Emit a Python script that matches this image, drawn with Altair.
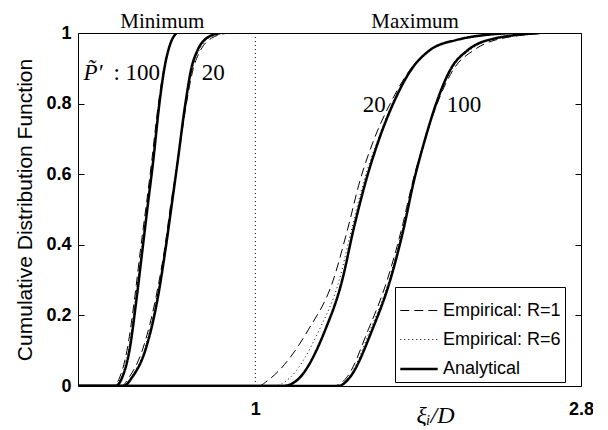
import altair as alt
import pandas as pd

# ---------------- data ----------------
X_LEFT = 0.02
X_RIGHT = 2.8
KINDS = ["Empirical: R=1", "Empirical: R=6", "Analytical"]

# Minimum, P'=100
CDF_MIN100 = [0, 0.026, 0.1, 0.244, 0.385, 0.527, 0.63, 0.8, 0.9, 0.97, 1.0]
X_MIN100_R1 = [0.2159, 0.2518, 0.2905, 0.3319, 0.3650, 0.4009, 0.4258, 0.4644, 0.4948, 0.5307, 0.5693]
X_MIN100_R6 = [0.2214, 0.2601, 0.2987, 0.3374, 0.3705, 0.4064, 0.4313, 0.4672, 0.4975, 0.5307, 0.5638]
X_MIN100_AN = [0.2269, 0.2656, 0.3042, 0.3429, 0.3760, 0.4092, 0.4340, 0.4699, 0.4975, 0.5307, 0.5638]

# Minimum, P'=20
CDF_MIN20 = [0, 0.026, 0.102, 0.244, 0.385, 0.527, 0.63, 0.8, 0.9, 0.95, 0.985, 1.0]
X_MIN20_R1 = [0.2601, 0.3042, 0.3760, 0.4478, 0.4975, 0.5362, 0.5693, 0.6190, 0.6576, 0.6963, 0.7570, 0.8509]
X_MIN20_R6 = [0.2656, 0.3153, 0.3871, 0.4533, 0.5030, 0.5417, 0.5693, 0.6163, 0.6521, 0.6880, 0.7405, 0.8233]
X_MIN20_AN = [0.2711, 0.3208, 0.3926, 0.4589, 0.5030, 0.5417, 0.5693, 0.6135, 0.6466, 0.6797, 0.7294, 0.8067]

# Maximum, P'=20
CDF_MAX20 = [0, 0.017, 0.159, 0.30, 0.44, 0.584, 0.7, 0.8, 0.9, 0.95, 0.98, 1.0]
X_MAX20_R1 = [1.0166, 1.0718, 1.2927, 1.4307, 1.5080, 1.5798, 1.6571, 1.7455, 1.8614, 1.9608, 2.1104, 2.4357]
X_MAX20_R6 = [1.1049, 1.1767, 1.3534, 1.4638, 1.5301, 1.6019, 1.6792, 1.7565, 1.8669, 1.9608, 2.1104, 2.4191]
X_MAX20_AN = [1.1546, 1.2319, 1.3865, 1.4804, 1.5411, 1.6129, 1.6847, 1.7620, 1.8669, 1.9608, 2.1104, 2.4081]

# Maximum, P'=100
CDF_MAX100 = [0, 0.026, 0.159, 0.30, 0.44, 0.584, 0.7, 0.8, 0.9, 0.95, 0.98, 1.0]
X_MAX100_R1 = [1.4307, 1.5080, 1.6240, 1.7289, 1.8062, 1.8725, 1.9387, 2.0050, 2.0988, 2.2037, 2.3252, 2.6179]
X_MAX100_R6 = [1.4473, 1.5190, 1.6350, 1.7399, 1.8117, 1.8780, 1.9387, 1.9994, 2.0878, 2.1817, 2.2976, 2.5903]
X_MAX100_AN = [1.4583, 1.5246, 1.6461, 1.7455, 1.8172, 1.8780, 1.9387, 1.9994, 2.0823, 2.1706, 2.2866, 2.5737]

Y_TICKS = [0, 0.2, 0.4, 0.6, 0.8, 1.0]
X_TICKS = [1, 2.8]
VLINE_X = [1.0]

HEAD_TEXT = ["Minimum", "Maximum"]
HEAD_X = [0.486, 1.883]
HEAD_Y = [1.015, 1.015]

NOTE_TEXT = [": 100", "20", "20", "100"]
NOTE_X = [0.216, 0.768, 1.657, 2.154]
NOTE_Y = [0.867, 0.867, 0.776, 0.776]
NOTE_ALIGN = ["left", "center", "center", "center"]

PSYM_TEXT = ["P\u0303\u2032"]
PSYM_X = [0.050]
PSYM_Y = [0.867]

# ---------------- build tables ----------------
curves = [
    ("min100", CDF_MIN100, [X_MIN100_R1, X_MIN100_R6, X_MIN100_AN]),
    ("min20", CDF_MIN20, [X_MIN20_R1, X_MIN20_R6, X_MIN20_AN]),
    ("max20", CDF_MAX20, [X_MAX20_R1, X_MAX20_R6, X_MAX20_AN]),
    ("max100", CDF_MAX100, [X_MAX100_R1, X_MAX100_R6, X_MAX100_AN]),
]
rows = []
for name, cdfs, xs_list in curves:
    for kind, xs in zip(KINDS, xs_list):
        cid = f"{name}-{kind}"
        rows.append({"curve": cid, "kind": kind, "x": X_LEFT, "cdf": 0.0})
        for xv, cv in zip(xs, cdfs):
            rows.append({"curve": cid, "kind": kind, "x": xv, "cdf": cv})
df = pd.DataFrame(rows)

vline_df = pd.DataFrame({"x": VLINE_X})
head_df = pd.DataFrame({"t": HEAD_TEXT, "x": HEAD_X, "y": HEAD_Y})
note_df = pd.DataFrame({"t": NOTE_TEXT, "x": NOTE_X, "y": NOTE_Y, "a": NOTE_ALIGN})
psym_df = pd.DataFrame({"t": PSYM_TEXT, "x": PSYM_X, "y": PSYM_Y})

xscale = alt.Scale(domain=[X_LEFT, X_RIGHT], nice=False, zero=False)
yscale = alt.Scale(domain=[0, 1], nice=False, zero=False)

xaxis = alt.Axis(
    values=X_TICKS, format=".1~f", ticks=False, domain=False, grid=False,
    labelFont="Liberation Sans", labelFontWeight="bold", labelFontSize=18,
    labelColor="black", labelPadding=14, labelFlush=False,
    title="\u03be\u1d62/D", titleFont="Liberation Serif", titleFontStyle="italic",
    titleFontWeight="normal", titleFontSize=24, titleColor="black",
    titleX=357, titleY=36, titleAlign="center", titleBaseline="alphabetic")

X = alt.X("x:Q", scale=xscale, axis=xaxis)

legend = alt.Legend(
    title=None, orient="none", legendX=317, legendY=254,
    strokeColor="black", fillColor="white", padding=4, cornerRadius=0,
    labelFont="Liberation Sans", labelFontSize=18, labelColor="black",
    symbolType="stroke", symbolSize=1400, symbolStrokeColor="black",
    labelOffset=4, rowPadding=0,
)

lines = alt.Chart(df).mark_line(interpolate="monotone", clip=True, color="black").encode(
    x=X,
    y=alt.Y("cdf:Q", scale=yscale, axis=alt.Axis(
        orient="left", offset=-6, values=Y_TICKS, format=".1~f", ticks=True, tickSize=6,
        tickColor="black", domain=False, grid=False,
        labelFont="Liberation Sans", labelFontWeight="bold", labelFontSize=18,
        labelColor="black", labelPadding=7, labelFlush=False,
        title="Cumulative Distribution Function", titleFont="Liberation Sans",
        titleFontWeight="normal", titleFontSize=21, titleColor="black", titlePadding=10)),
    detail="curve:N",
    strokeDash=alt.StrokeDash("kind:N", scale=alt.Scale(type="ordinal", domain=KINDS, range=[[9, 5], [1, 3], [1, 0]]), legend=legend),
    strokeWidth=alt.StrokeWidth("kind:N", scale=alt.Scale(type="ordinal", domain=KINDS, range=[1, 1, 2.5]), legend=legend),
)

right_ticks = alt.Chart(df).mark_point(opacity=0).encode(
    x=X,
    y=alt.Y("cdf:Q", scale=yscale, axis=alt.Axis(
        orient="right", offset=-6, values=Y_TICKS, labels=False, ticks=True, tickSize=6,
        tickColor="black", domain=False, grid=False, title=None)),
)

vline = alt.Chart(vline_df).mark_rule(color="black", strokeWidth=1, strokeDash=[1, 3]).encode(
    x=X,
)

def text_layer(data, align, style="normal", size=23):
    return alt.Chart(data).mark_text(
        font="Liberation Serif", fontSize=size, fontStyle=style, color="black",
        baseline="alphabetic", align=align
    ).encode(
        x=X,
        y=alt.Y("y:Q", scale=yscale, axis=None),
        text="t:N",
    )

heads = text_layer(head_df, "center", size=21)
notes_left = text_layer(note_df[note_df.a == "left"], "left")
notes_center = text_layer(note_df[note_df.a == "center"], "center")
psym = text_layer(psym_df, "left", "italic")

chart = alt.layer(lines, right_ticks, vline, heads, notes_left, notes_center, psym).resolve_axis(
    y="independent"
).properties(
    width=503, height=353,
    autosize=alt.AutoSizeParams(type="none"),
    padding={"left": 70, "top": 25, "right": 12, "bottom": 40},
    background="white",
).configure_view(stroke="black", strokeWidth=1)

chart.save("out.html", embed_options={"renderer": "svg", "actions": False})
